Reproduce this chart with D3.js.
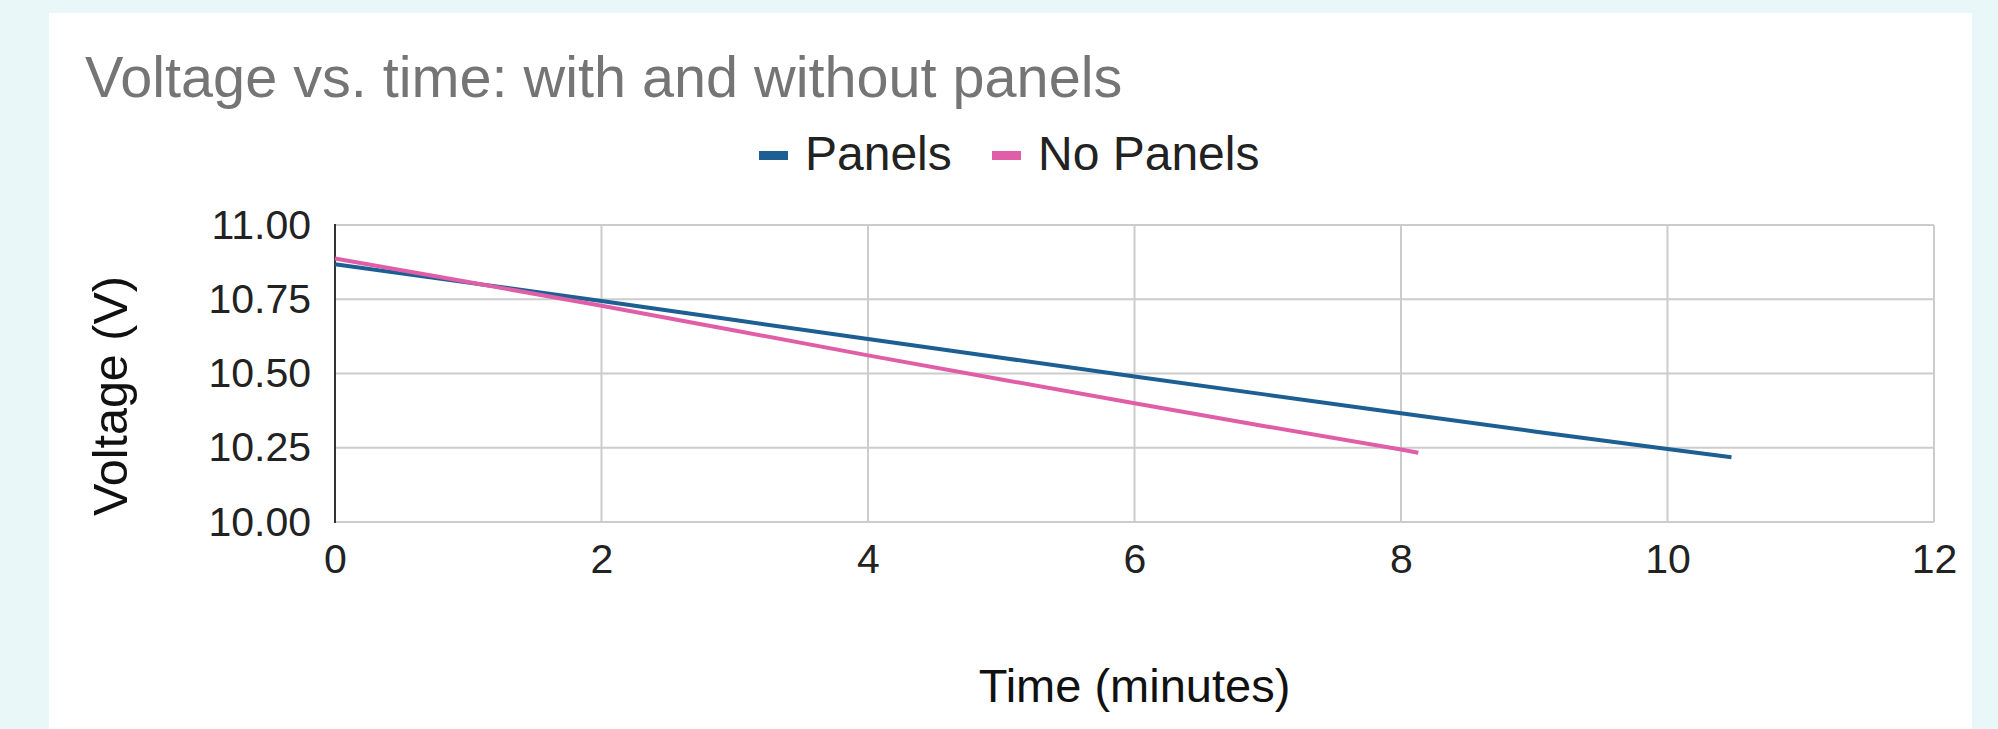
<!DOCTYPE html>
<html>
<head>
<meta charset="utf-8">
<script src="https://cdn.jsdelivr.net/npm/d3@7"></script>
<style>
  html, body { margin: 0; padding: 0; background: #eaf7f8; }
  svg { display: block; }
  text { font-family: "Liberation Sans", Arial, sans-serif; }
</style>
</head>
<body>
<svg id="chart" width="1998" height="729"></svg>
<script>
// Battery voltage readings (minutes, volts)
const panelsTime   = [0, 1, 2, 3, 4, 5, 6, 7, 8, 9, 10, 10.48];
const panelsVolts  = [10.868, 10.806, 10.744, 10.680, 10.616, 10.553, 10.490, 10.428, 10.366, 10.305, 10.246, 10.218];
const noPanelsTime  = [0, 1, 2, 3, 4, 5, 6, 7, 8, 8.13];
const noPanelsVolts = [10.887, 10.808, 10.728, 10.645, 10.561, 10.480, 10.400, 10.321, 10.244, 10.233];

const seriesNames  = ["Panels", "No Panels"];
const seriesColors = ["#1d5f92", "#e05ea7"];
const xTicks = [0, 2, 4, 6, 8, 10, 12];
const yTicks = [10.00, 10.25, 10.50, 10.75, 11.00];

const svg = d3.select("#chart");

// white card
svg.append("rect").attr("x", 49).attr("y", 13).attr("width", 1923).attr("height", 730).attr("fill", "#ffffff");

const plotLeft = 335, plotRight = 1934, plotTop = 225, plotBottom = 522;
const x = d3.scaleLinear().domain([0, 12]).range([plotLeft, plotRight]);
const y = d3.scaleLinear().domain([10, 11]).range([plotBottom, plotTop]);

// title
svg.append("text").attr("x", 85).attr("y", 97)
  .attr("font-size", 57.6).attr("fill", "#757575")
  .text("Voltage vs. time: with and without panels");

// gridlines
const grid = svg.append("g");
grid.selectAll("line.h").data(yTicks).join("line")
  .attr("class", "h")
  .attr("x1", plotLeft).attr("x2", plotRight)
  .attr("y1", d => y(d)).attr("y2", d => y(d))
  .attr("stroke", "#cccccc").attr("stroke-width", 2);
grid.selectAll("line.v").data(xTicks.slice(1)).join("line")
  .attr("class", "v")
  .attr("x1", d => x(d)).attr("x2", d => x(d))
  .attr("y1", plotTop).attr("y2", plotBottom)
  .attr("stroke", "#cccccc").attr("stroke-width", 2);

// axes
const yAxis = svg.append("g").attr("transform", `translate(${plotLeft},0)`)
  .call(d3.axisLeft(y).tickValues(yTicks).tickFormat(d3.format(".2f")).tickSize(0).tickPadding(24));
yAxis.select(".domain").remove();
yAxis.selectAll("text").attr("font-size", 41).attr("fill", "#222222")
  .attr("font-family", "'Liberation Sans', Arial, sans-serif");

const xAxis = svg.append("g").attr("transform", `translate(0,${plotBottom})`)
  .call(d3.axisBottom(x).tickValues(xTicks).tickFormat(d3.format("d")).tickSize(0).tickPadding(22));
xAxis.select(".domain").remove();
xAxis.selectAll("text").attr("font-size", 41).attr("fill", "#222222")
  .attr("font-family", "'Liberation Sans', Arial, sans-serif");

// left axis line over the gridlines
svg.append("line").attr("x1", plotLeft).attr("x2", plotLeft).attr("y1", plotTop - 1).attr("y2", plotBottom + 1)
  .attr("stroke", "#333333").attr("stroke-width", 2);

// axis titles
svg.append("text").attr("x", (plotLeft + plotRight) / 2).attr("y", 702)
  .attr("text-anchor", "middle").attr("font-size", 47).attr("fill", "#111111")
  .text("Time (minutes)");
svg.append("text").attr("transform", "translate(127,396) rotate(-90)")
  .attr("text-anchor", "middle").attr("font-size", 48.5).attr("fill", "#111111")
  .text("Voltage (V)");

// series lines
const line = d3.line().x(d => x(d[0])).y(d => y(d[1]));
const series = [
  d3.zip(panelsTime, panelsVolts),
  d3.zip(noPanelsTime, noPanelsVolts)
];
svg.append("g").selectAll("path").data(series).join("path")
  .attr("d", line)
  .attr("fill", "none")
  .attr("stroke", (d, i) => seriesColors[i])
  .attr("stroke-width", 4);

// legend
const legend = svg.append("g");
const legendX = [759, 992];
seriesNames.forEach((name, i) => {
  legend.append("rect").attr("x", legendX[i]).attr("y", 151).attr("width", 29).attr("height", 9)
    .attr("fill", seriesColors[i]);
  legend.append("text").attr("x", legendX[i] + 46).attr("y", 170)
    .attr("font-size", 48).attr("fill", "#222222").text(name);
});
</script>
</body>
</html>
